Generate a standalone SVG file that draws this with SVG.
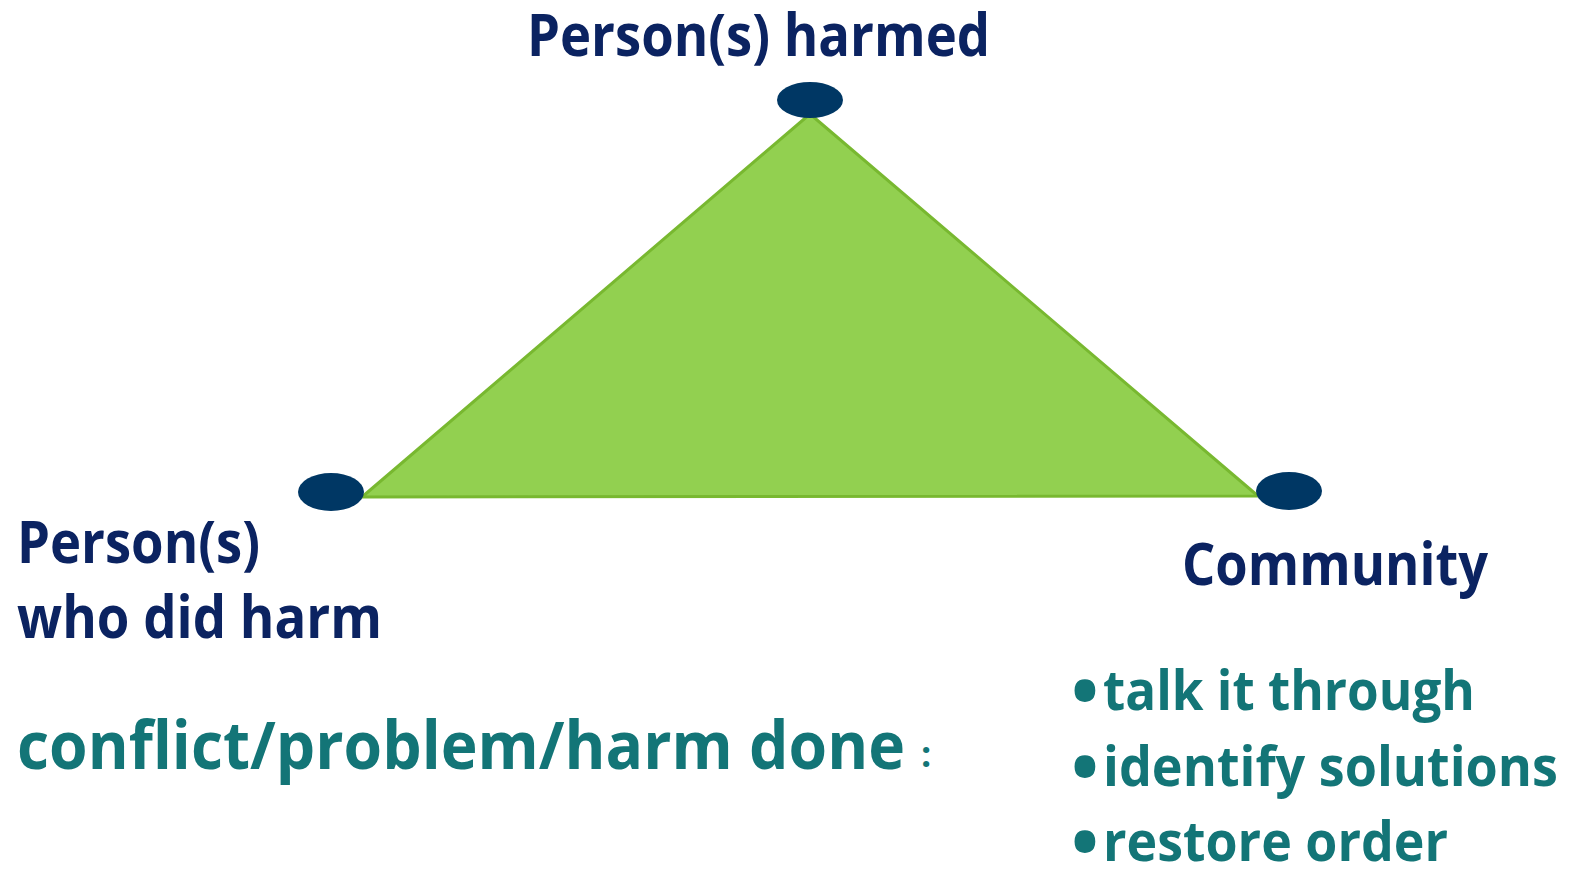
<svg xmlns="http://www.w3.org/2000/svg" width="1572" height="869" viewBox="0 0 1572 869">
<style>
.lbl{font-family:"Open Sans","Noto Sans",sans-serif;font-weight:bold;fill:#0b2361;font-size:59px}
.teal{font-family:"Open Sans","Noto Sans",sans-serif;font-weight:bold;fill:#137577}
.dot{fill:#003764}
</style>
<rect width="1572" height="869" fill="#ffffff"/>
<g id="connectors">
<polygon points="810,114 362,497 1258,496" fill="#92d050" stroke="#78b830" stroke-width="3" stroke-linejoin="round"/>
</g>
<g id="node-harmed">
<ellipse class="dot" cx="810" cy="100" rx="33" ry="18"/>
<text class="lbl" x="527" y="56" textLength="463" lengthAdjust="spacingAndGlyphs">Person(s) harmed</text>
</g>
<g id="node-did-harm">
<ellipse class="dot" cx="331" cy="492" rx="33" ry="19"/>
<text class="lbl" x="17" y="563" textLength="243" lengthAdjust="spacingAndGlyphs">Person(s)</text>
<text class="lbl" x="17" y="638" textLength="365" lengthAdjust="spacingAndGlyphs">who did harm</text>
</g>
<g id="node-community">
<ellipse class="dot" cx="1289" cy="491" rx="33" ry="19"/>
<text class="lbl" x="1182" y="585" textLength="306" lengthAdjust="spacingAndGlyphs">Community</text>
</g>
<g id="caption">
<text class="teal" x="17" y="769" font-size="67" textLength="888" lengthAdjust="spacingAndGlyphs">conflict/problem/harm done</text>
<text class="teal" x="921" y="767" font-size="36">:</text>
</g>
<g id="bullets">
<text class="teal" x="1071" y="710" font-size="56"><tspan font-size="74" dy="7">•</tspan><tspan x="1103" dy="-7" textLength="372" lengthAdjust="spacingAndGlyphs">talk it through</tspan></text>
<text class="teal" x="1071" y="786" font-size="56"><tspan font-size="74" dy="7">•</tspan><tspan x="1103" dy="-7" textLength="455" lengthAdjust="spacingAndGlyphs">identify solutions</tspan></text>
<text class="teal" x="1071" y="861" font-size="56"><tspan font-size="74" dy="7">•</tspan><tspan x="1103" dy="-7" textLength="345" lengthAdjust="spacingAndGlyphs">restore order</tspan></text>
</g>
</svg>
